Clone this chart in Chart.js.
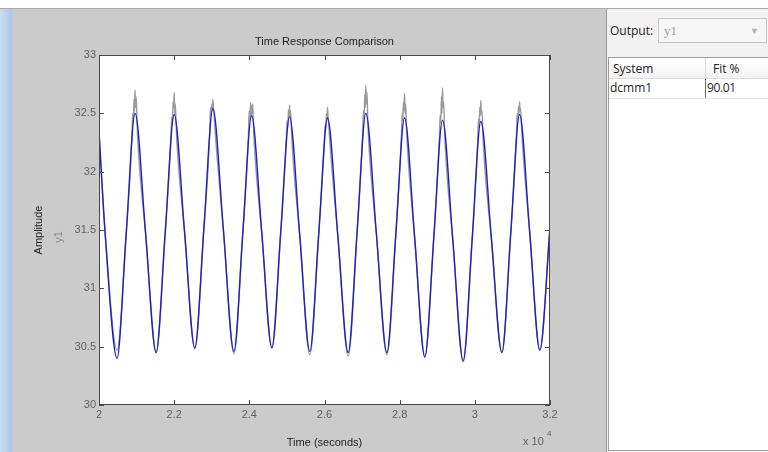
<!DOCTYPE html>
<html><head><meta charset="utf-8">
<script src="https://cdn.jsdelivr.net/npm/chart.js@4.4.0/dist/chart.umd.min.js"></script>
<style>
html,body{margin:0;padding:0;width:768px;height:452px;overflow:hidden;background:#cbcbcb;font-family:"Liberation Sans",Arial,sans-serif;}
#topstrip{position:absolute;left:0;top:0;width:768px;height:8px;background:#fdfdfd;border-bottom:1px solid #a8a8a8;}
#leftstrip{position:absolute;left:0;top:9px;width:12px;height:443px;background:linear-gradient(to right,#c9ddf2,#aac8ea);}
#wrap{position:absolute;left:0;top:0;width:600px;height:452px;}
#panel{position:absolute;left:606px;top:9px;width:162px;height:443px;background:#f2f2f2;border-left:1px solid #9a9a9a;font-family:"Open Sans","Noto Sans",sans-serif;color:#1e1e1e;}
#outlbl{position:absolute;left:3px;top:10px;font-size:12px;line-height:24px;}
#dd{position:absolute;left:51px;top:9px;width:107px;height:23px;border:1px solid #c6c6c6;background:#f6f6f6;}
#dd .v{position:absolute;left:5px;top:0;line-height:23px;font-family:"Liberation Serif","DejaVu Serif",serif;font-size:13px;color:#a0a0a0;}
#dd .a{position:absolute;right:7px;top:0;line-height:23px;font-size:9px;color:#b0b0b0;}
#tbl{position:absolute;left:1px;top:48px;width:170px;height:392px;border:1px solid #9e9e9e;background:#fff;}
.cell{position:absolute;font-size:12px;line-height:20px;height:20px;}
</style></head>
<body>
<div id="topstrip"></div>
<div id="leftstrip"></div>
<div id="wrap"><canvas id="c" width="600" height="452"></canvas></div>
<div id="panel">
  <div id="outlbl">Output:</div>
  <div id="dd"><span class="v">y1</span><span class="a">&#9660;</span></div>
  <div id="tbl">
    <div style="position:absolute;left:0;top:0;width:170px;height:20px;background:linear-gradient(#ffffff,#f3f3f3);border-bottom:1px solid #dcdcdc;"></div>
    <div style="position:absolute;left:96px;top:0;width:1px;height:20px;background:#dcdcdc;"></div>
    <div style="position:absolute;left:96px;top:21px;width:1px;height:19px;background:#6a6a6a;"></div>
    <div style="position:absolute;left:0;top:40px;width:170px;height:1px;background:#e6e6e6;"></div>
    <div class="cell" style="left:4px;top:1px;">System</div>
    <div class="cell" style="left:104px;top:1px;">Fit %</div>
    <div class="cell" style="left:1px;top:20px;">dcmm1</div>
    <div class="cell" style="left:98px;top:20px;letter-spacing:-0.4px;">90.01</div>
  </div>
</div>
<script>
// ---- data (time in seconds, amplitude) ----
const modelTime = [20000,20168,20480,20720,20960,21240,21520,21760,22000,22275,22550,22790,23030,23310,23590,23825,24060,24330,24600,24835,25070,25340,25610,25845,26080,26355,26630,26865,27100,27380,27660,27895,28130,28400,28670,28905,29140,29415,29690,29925,30160,30440,30720,30955,31190,31460,31730,32000];
const modelAmp  = [32.34,31.45,30.40,31.45,32.50,31.47,30.45,31.47,32.49,31.49,30.49,31.51,32.54,31.50,30.46,31.47,32.48,31.48,30.49,31.48,32.47,31.46,30.46,31.46,32.46,31.45,30.45,31.47,32.50,31.47,30.45,31.45,32.46,31.43,30.41,31.42,32.44,31.41,30.38,31.40,32.43,31.43,30.45,31.47,32.49,31.48,30.47,31.52];

const measTime = [20000,20168,20480,20720,
 20875,20895,20915,20930,20945,20960,20975,20990,21010,21035,21240,21520,21760,
 21915,21935,21955,21970,21985,22000,22015,22030,22050,22075,22275,22550,22790,
 22945,22965,22985,23000,23015,23030,23045,23060,23080,23105,23310,23590,23825,
 23975,23995,24015,24030,24045,24060,24075,24090,24110,24135,24330,24600,24835,
 24985,25005,25025,25040,25055,25070,25085,25100,25120,25145,25340,25610,25845,
 25995,26015,26035,26050,26065,26080,26095,26110,26130,26155,26355,26630,26865,
 27015,27035,27055,27070,27085,27100,27115,27130,27150,27175,27380,27660,27895,
 28045,28065,28085,28100,28115,28130,28145,28160,28180,28205,28400,28670,28905,
 29055,29075,29095,29110,29125,29140,29155,29170,29190,29215,29415,29690,29925,
 30075,30095,30115,30130,30145,30160,30175,30190,30210,30235,30440,30720,30955,
 31105,31125,31145,31160,31175,31190,31205,31220,31240,31265,31460,31730,32000];
const measAmp = [32.34,31.45,30.47,31.45,
 32.28,32.50,32.42,32.62,32.52,32.70,32.55,32.64,32.45,32.25,31.47,30.45,31.47,
 32.30,32.47,32.40,32.60,32.55,32.68,32.50,32.58,32.42,32.24,31.49,30.48,31.51,
 32.32,32.55,32.48,32.58,32.52,32.62,32.54,32.50,32.40,32.28,31.50,30.44,31.47,
 32.30,32.52,32.44,32.59,32.46,32.57,32.50,32.58,32.40,32.22,31.48,30.49,31.48,
 32.28,32.44,32.38,32.53,32.46,32.57,32.48,32.52,32.36,32.20,31.46,30.43,31.46,
 32.25,32.40,32.36,32.50,32.44,32.55,32.47,32.42,32.32,32.20,31.45,30.42,31.47,
 32.32,32.52,32.46,32.66,32.55,32.74,32.58,32.68,32.46,32.26,31.47,30.43,31.45,
 32.30,32.50,32.44,32.60,32.52,32.67,32.50,32.58,32.40,32.22,31.43,30.42,31.42,
 32.28,32.48,32.42,32.64,32.50,32.72,32.55,32.60,32.40,32.20,31.41,30.37,31.40,
 32.25,32.45,32.38,32.55,32.48,32.61,32.50,32.52,32.36,32.18,31.43,30.45,31.47,
 32.30,32.50,32.44,32.56,32.50,32.60,32.52,32.54,32.40,32.25,31.48,30.47,31.52];

const xTickLabels = ['2','2.2','2.4','2.6','2.8','3','3.2'];
const yTickLabels = ['30','30.5','31','31.5','32','32.5','33'];

const FONT = '"Liberation Sans", Arial, sans-serif';

const framePlugin = {
  id: 'frame',
  beforeDraw(chart) {
    const {ctx, chartArea: a} = chart;
    ctx.save();
    ctx.fillStyle = '#ffffff';
    ctx.fillRect(a.left, a.top, a.right - a.left, a.bottom - a.top);
    ctx.restore();
  },
  afterDraw(chart) {
    const {ctx, chartArea: a} = chart;
    const xs = chart.scales.x, ys = chart.scales.y;
    ctx.save();
    ctx.strokeStyle = '#4a4a4a';
    ctx.lineWidth = 1;
    ctx.strokeRect(a.left + 0.5, a.top + 0.5, a.right - a.left - 1, a.bottom - a.top - 1);
    ctx.beginPath();
    xs.ticks.forEach(t => {
      const px = Math.round(xs.getPixelForValue(t.value)) + 0.5;
      ctx.moveTo(px, a.bottom); ctx.lineTo(px, a.bottom - 5);
      ctx.moveTo(px, a.top); ctx.lineTo(px, a.top + 5);
    });
    ys.ticks.forEach(t => {
      const py = Math.round(ys.getPixelForValue(t.value)) + 0.5;
      ctx.moveTo(a.left, py); ctx.lineTo(a.left + 5, py);
      ctx.moveTo(a.right, py); ctx.lineTo(a.right - 5, py);
    });
    ctx.stroke();
    // secondary y label (output channel name)
    ctx.fillStyle = '#8a8a8a';
    ctx.font = '11px ' + FONT;
    ctx.translate(59, 237);
    ctx.rotate(-Math.PI / 2);
    ctx.textAlign = 'center';
    ctx.textBaseline = 'middle';
    ctx.fillText('y1', 0, 0);
    ctx.restore();
    // exponent note
    ctx.save();
    ctx.fillStyle = '#5f5f5f';
    ctx.font = '11px ' + FONT;
    ctx.textBaseline = 'alphabetic';
    ctx.textAlign = 'left';
    ctx.fillText('x 10', 523, 445);
    ctx.font = '8px ' + FONT;
    ctx.fillText('4', 547, 436);
    ctx.restore();
  }
};

new Chart(document.getElementById('c'), {
  type: 'line',
  data: {
    datasets: [
      { label: 'dcmm1', data: modelTime.map((t, i) => ({x: t, y: modelAmp[i]})),
        borderColor: '#2020c0', borderWidth: 1.4, pointRadius: 0,
        cubicInterpolationMode: 'monotone', order: 0 },
      { label: 'y1', data: measTime.map((t, i) => ({x: t, y: measAmp[i]})),
        borderColor: '#9a9a9a', borderWidth: 1.4, pointRadius: 0,
        cubicInterpolationMode: 'monotone', order: 1 }
    ]
  },
  options: {
    responsive: false, animation: false, events: [],
    layout: { padding: { left: 0, top: 0, right: 50, bottom: 0 } },
    plugins: {
      legend: { display: false }, tooltip: { enabled: false },
      title: { display: true, text: 'Time Response Comparison', fullSize: false,
        color: '#1e1e1e', font: { family: FONT, size: 11, weight: 'normal', lineHeight: '14px' },
        padding: { top: 35, bottom: 6 } }
    },
    scales: {
      x: { type: 'linear', min: 20000, max: 32000,
        grid: { display: false, drawTicks: false }, border: { display: false },
        ticks: { stepSize: 2000, padding: 3, color: '#5f5f5f', autoSkip: false, maxRotation: 0,
          font: { family: FONT, size: 11 }, callback: (v, i) => xTickLabels[i] },
        title: { display: true, text: 'Time (seconds)', color: '#1e1e1e',
          font: { family: FONT, size: 11 }, padding: { top: 0, bottom: 2 } },
        afterFit: s => { s.height = 47; } },
      y: { type: 'linear', min: 30, max: 33,
        grid: { display: false, drawTicks: false }, border: { display: false },
        ticks: { stepSize: 0.5, padding: 3, color: '#5f5f5f', autoSkip: false,
          font: { family: FONT, size: 11 }, callback: (v, i) => yTickLabels[i] },
        title: { display: true, text: 'Amplitude', color: '#1e1e1e',
          font: { family: FONT, size: 11 }, padding: { top: 32, bottom: 0 } },
        afterFit: s => { s.width = 99; } }
    }
  },
  plugins: [framePlugin]
});
</script>
</body></html>
